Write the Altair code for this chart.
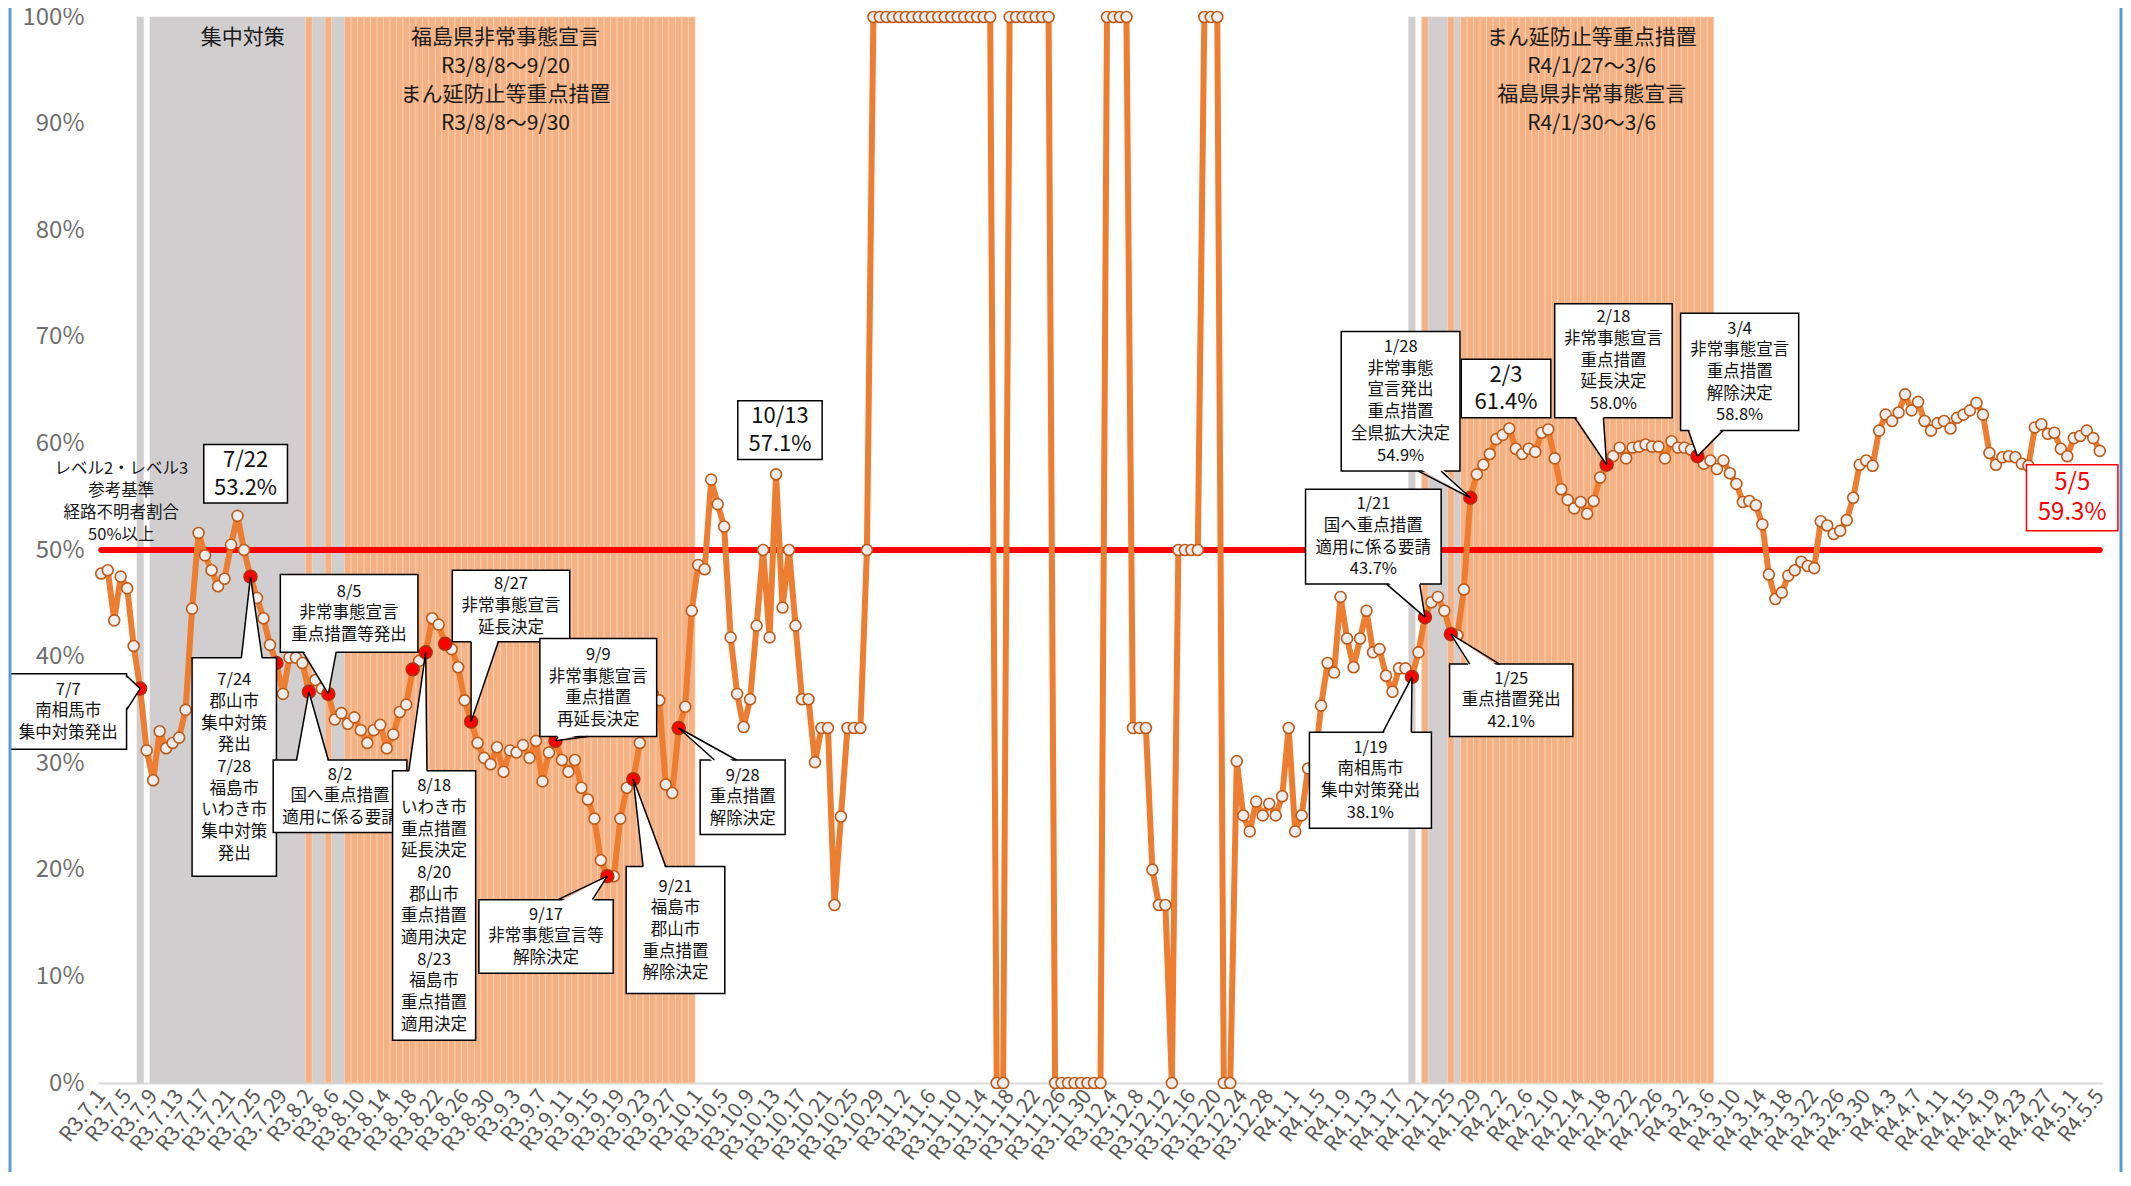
import altair as alt
import pandas as pd

FONT = 'Noto Sans CJK JP'

# Daily share of cases with unknown infection route (%), R3.7.1 .. R4.5.5
jul = [47.8, 48.1, 43.4, 47.5, 46.4, 41.0, 37.0, 31.2, 28.4, 33.0,
       31.4, 31.9, 32.4, 35.0, 44.5, 51.6, 49.5, 48.1, 46.6, 47.3,
       50.5, 53.2, 50.0, 47.5, 45.5, 43.6, 41.1, 39.4, 36.5, 39.9, 39.9]
aug = [39.4, 36.7, 37.8, 37.0, 36.5, 34.1, 34.7, 33.7, 34.3, 33.1,
       31.9, 33.1, 33.6, 31.4, 32.7, 34.8, 35.5, 38.8, 39.6, 40.4,
       43.6, 43.0, 41.2, 40.7, 39.0, 35.9, 33.9, 31.9, 30.5, 29.9, 31.5]
sep = [29.2, 31.2, 31.0, 31.7, 30.5, 32.1, 28.3, 31.0, 32.1, 30.3,
       29.2, 30.3, 27.7, 26.6, 24.8, 20.9, 19.4, 19.4, 24.8, 27.7,
       28.5, 31.9, 34.5, 36.5, 35.9, 28.0, 27.2, 33.3, 35.3, 44.3]
octo = [48.6, 48.2, 56.6, 54.3, 52.2, 41.8, 36.5, 33.4, 36.0, 42.9,
        50.0, 41.8, 57.1, 44.6, 50.0, 42.9, 36.0, 36.0, 30.1, 33.3,
        33.3, 16.7, 25.0, 33.3, 33.3, 33.3, 50.0, 100, 100, 100, 100]
nov = [100, 100, 100, 100, 100, 100, 100, 100, 100, 100,
       100, 100, 100, 100, 100, 0, 0, 100, 100, 100,
       100, 100, 100, 100, 0, 0, 0, 0, 0, 0]
dec = [0, 0, 100, 100, 100, 100, 33.3, 33.3, 33.3, 20.0,
       16.7, 16.7, 0, 50, 50, 50, 50, 100, 100, 100,
       0, 0, 30.2, 25.1, 23.6, 26.4, 25.1, 26.2, 25.1, 26.9, 33.3]
jan = [23.6, 25.1, 29.5, 29.8, 35.4, 39.4, 38.5, 45.6, 41.7, 39.0,
       41.7, 44.3, 40.4, 40.7, 38.2, 36.7, 38.9, 38.9, 38.1, 40.4,
       43.7, 45.1, 45.6, 44.3, 42.1, 42.0, 46.3, 54.9, 57.1, 58.0, 59.0]
feb = [60.4, 60.8, 61.4, 59.5, 59.0, 59.5, 59.2, 61.0, 61.3, 58.6,
       55.7, 54.7, 53.9, 54.5, 53.4, 54.6, 56.8, 58.0, 58.8, 59.6,
       58.6, 59.6, 59.7, 59.9, 59.7, 59.7, 58.6, 60.2]
mar = [59.6, 59.6, 59.4, 58.8, 58.1, 58.4, 57.6, 58.4, 57.2, 56.2,
       54.5, 54.6, 54.2, 52.4, 47.7, 45.4, 46.0, 47.6, 48.1, 48.9,
       48.5, 48.3, 52.7, 52.3, 51.5, 51.8, 52.8, 54.9, 58.0, 58.4, 57.9]
apr = [61.2, 62.7, 62.1, 62.9, 64.6, 63.1, 63.9, 62.1, 61.2, 61.9,
       62.1, 61.4, 62.4, 62.7, 63.1, 63.8, 62.7, 59.1, 58.0, 58.7,
       58.8, 58.7, 58.1, 57.9, 61.5, 61.8, 60.9, 61.0, 59.5, 58.8]
may = [60.5, 60.7, 61.2, 60.5, 59.3]
ratio = jul + aug + sep + octo + nov + dec + jan + feb + mar + apr + may

# x axis labels, one every 4 days
tick_labels = ['R3.7.1', 'R3.7.5', 'R3.7.9', 'R3.7.13', 'R3.7.17', 'R3.7.21', 'R3.7.25', 'R3.7.29',
               'R3.8.2', 'R3.8.6', 'R3.8.10', 'R3.8.14', 'R3.8.18', 'R3.8.22', 'R3.8.26', 'R3.8.30',
               'R3.9.3', 'R3.9.7', 'R3.9.11', 'R3.9.15', 'R3.9.19', 'R3.9.23', 'R3.9.27',
               'R3.10.1', 'R3.10.5', 'R3.10.9', 'R3.10.13', 'R3.10.17', 'R3.10.21', 'R3.10.25', 'R3.10.29',
               'R3.11.2', 'R3.11.6', 'R3.11.10', 'R3.11.14', 'R3.11.18', 'R3.11.22', 'R3.11.26', 'R3.11.30',
               'R3.12.4', 'R3.12.8', 'R3.12.12', 'R3.12.16', 'R3.12.20', 'R3.12.24', 'R3.12.28',
               'R4.1.1', 'R4.1.5', 'R4.1.9', 'R4.1.13', 'R4.1.17', 'R4.1.21', 'R4.1.25', 'R4.1.29',
               'R4.2.2', 'R4.2.6', 'R4.2.10', 'R4.2.14', 'R4.2.18', 'R4.2.22', 'R4.2.26',
               'R4.3.2', 'R4.3.6', 'R4.3.10', 'R4.3.14', 'R4.3.18', 'R4.3.22', 'R4.3.26', 'R4.3.30',
               'R4.4.3', 'R4.4.7', 'R4.4.11', 'R4.4.15', 'R4.4.19', 'R4.4.23', 'R4.4.27',
               'R4.5.1', 'R4.5.5']

# days (index from R3.7.1) marked in red
event_days = [6, 23, 27, 32, 35, 48, 50, 53, 57, 70, 78, 82, 89, 202, 204, 208, 211, 232, 246]

# background periods: 集中対策 (gray) and 重点措置/非常事態宣言 (orange)
gray_spans = [(6, 6), (8, 31), (33, 34), (36, 37), (202, 202), (205, 207), (209, 209)]
orange_spans = [(32, 32), (35, 35), (38, 91), (204, 204), (208, 208), (210, 248)]

threshold = 50

W, H = 2005, 1066
xs = alt.Scale(domain=[-0.5, 308.5], nice=False, zero=False)
ys = alt.Scale(domain=[0, 100], nice=False, zero=False)

label_expr = '[' + ','.join("'%s'" % t for t in tick_labels) + '][round(datum.value / 4)]'
x_axis = alt.Axis(values=list(range(0, len(ratio), 4)), labelExpr=label_expr,
                  labelAngle=-52, labelAlign='right', labelBaseline='middle',
                  labelFontSize=21, labelFont=FONT, labelColor='#595959',
                  labelPadding=9, labelOverlap=False, labelFlush=False,
                  ticks=False, grid=False, domainColor='#D9D9D9', domainWidth=2)
y_axis = alt.Axis(values=list(range(0, 101, 10)), labelExpr="datum.value + '%'",
                  labelFontSize=24, labelFont=FONT, labelColor='#6F6F6F',
                  labelPadding=14, ticks=False, domain=False, grid=False)


def X(f):
    return alt.X(f, type='quantitative', scale=xs, axis=x_axis, title=None)


def Y(f):
    return alt.Y(f, type='quantitative', scale=ys, axis=y_axis, title=None)


df = pd.DataFrame({'day': range(len(ratio)), 'ratio': ratio})

# --- background columns
gray_df = pd.DataFrame(gray_spans, columns=['a', 'b'])
gray_df['x0'] = gray_df['a'] - 0.5
gray_df['x1'] = gray_df['b'] + 0.5
gray_df['y0'] = 0
gray_df['y1'] = 100
gray = alt.Chart(gray_df).mark_rect(color='#D0CECE', stroke='#D0CECE', strokeWidth=0.5).encode(
    x=X('x0'), x2='x1', y=Y('y0'), y2='y1')

orange_days = [d for a, b in orange_spans for d in range(a, b + 1)]
orange_df = pd.DataFrame({'day': orange_days})
orange_df['x0'] = orange_df['day'] - 0.5
orange_df['x1'] = orange_df['day'] + 0.5
orange_df['y0'] = 0
orange_df['y1'] = 100
orange = alt.Chart(orange_df).mark_rect(color='#F4B183', stroke='#F9CFB2', strokeWidth=0.8).encode(
    x=X('x0'), x2='x1', y=Y('y0'), y2='y1')

# --- 50% reference line
thr = alt.Chart(pd.DataFrame({'x0': [0], 'x1': [len(ratio) - 1], 'y': [threshold]})).mark_rule(
    color='#FF0000', strokeWidth=6, strokeCap='round').encode(x=X('x0'), x2='x1', y=Y('y'))

# --- main series
line = alt.Chart(df).mark_line(color='#ED7D31', strokeWidth=6, strokeJoin='round').encode(
    x=X('day'), y=Y('ratio'))

white_pts = alt.Chart(df[~df['day'].isin(event_days)]).mark_circle(
    size=120, color='#EDEDED', stroke='#BF5B17', strokeWidth=1.6, opacity=1).encode(x=X('day'), y=Y('ratio'))
red_pts = alt.Chart(df[df['day'].isin(event_days)]).mark_circle(
    size=165, color='#FF0000', stroke='#A93210', strokeWidth=1.6, opacity=1).encode(x=X('day'), y=Y('ratio'))

# --- callouts: box (x0, x1, y0, y1) in day / % units, pointer (base a, base b, apex day, apex %)
callouts = [
    dict(lines=['7/7', '南相馬市', '集中対策発出'], box=(-14.1, 3.9, 31.3, 38.4), ptr=(35.0, 38.2, 6, 37.0), side='v'),
    dict(lines=['7/24', '郡山市', '集中対策', '発出', '7/28', '福島市', 'いわき市', '集中対策', '発出'],
         box=(14.0, 27.0, 19.4, 39.9), ptr=(21.6, 24.8, 23, 47.5)),
    dict(lines=['8/5', '非常事態宣言', '重点措置等発出'], box=(27.6, 48.8, 40.4, 47.7), ptr=(31.1, 36.2, 35, 36.5)),
    dict(lines=['8/2', '国へ重点措置', '適用に係る要請'], box=(26.5, 47.1, 23.5, 30.3), ptr=(30.1, 35.0, 32, 36.7)),
    dict(lines=['8/18', 'いわき市', '重点措置', '延長決定', '8/20', '郡山市', '重点措置', '適用決定',
                '8/23', '福島市', '重点措置', '適用決定'], box=(44.9, 57.7, 4.0, 29.3), ptr=(47.4, 50.2, 50, 40.4)),
    dict(lines=['8/27', '非常事態宣言', '延長決定'], box=(54.1, 72.2, 41.4, 48.1), ptr=(57.0, 61.2, 57, 33.9)),
    dict(lines=['9/9', '非常事態宣言', '重点措置', '再延長決定'], box=(67.6, 85.6, 32.5, 41.7), ptr=(70.4, 75.0, 70, 32.1)),
    dict(lines=['9/17', '非常事態宣言等', '解除決定'], box=(58.2, 78.9, 10.3, 17.2), ptr=(70.4, 75.7, 78, 19.4)),
    dict(lines=['9/21', '福島市', '郡山市', '重点措置', '解除決定'], box=(80.9, 96.1, 8.4, 20.3), ptr=(83.5, 87.0, 82, 28.5)),
    dict(lines=['9/28', '重点措置', '解除決定'], box=(92.3, 105.4, 23.3, 30.3), ptr=(94.5, 97.9, 89, 33.3)),
    dict(lines=['1/19', '南相馬市', '集中対策発出', '38.1%'], box=(186.2, 205.0, 23.9, 32.9), ptr=(197.5, 201.9, 202, 38.1)),
    dict(lines=['1/21', '国へ重点措置', '適用に係る要請', '43.7%'], box=(185.6, 206.5, 46.8, 55.7), ptr=(198.1, 203.2, 204, 43.7)),
    dict(lines=['1/25', '重点措置発出', '42.1%'], box=(207.8, 226.8, 32.5, 39.3), ptr=(210.9, 215.5, 208, 42.1)),
    dict(lines=['1/28', '非常事態', '宣言発出', '重点措置', '全県拡大決定', '54.9%'],
         box=(191.1, 209.4, 57.4, 70.5), ptr=(203.0, 206.5, 211, 54.9)),
    dict(lines=['2/18', '非常事態宣言', '重点措置', '延長決定', '58.0%'], box=(224.0, 242.1, 62.4, 73.1), ptr=(227.1, 231.5, 232, 58.0)),
    dict(lines=['3/4', '非常事態宣言', '重点措置', '解除決定', '58.8%'], box=(243.4, 261.6, 61.2, 72.2), ptr=(244.6, 249.9, 246, 58.8)),
    dict(lines=['7/22', '53.2%'], box=(15.8, 28.7, 54.4, 59.9), fs=22, lh=27.5),
    dict(lines=['10/13', '57.1%'], box=(98.1, 111.1, 58.5, 64.0), fs=22, lh=27.5),
    dict(lines=['2/3', '61.4%'], box=(209.6, 223.4, 62.4, 67.9), fs=22, lh=27.5),
    dict(lines=['5/5', '59.3%'], box=(296.7, 310.8, 51.8, 58.0), fs=24, lh=30, color='#FF0000'),
]


def text_layer(lines, xc, yc, fs, lh, color):
    # multi-line text centred on (xc, yc)
    pos = pd.DataFrame({'xc': [xc], 'yc': [yc]})
    return alt.Chart(pos).mark_text(
        text=lines, font=FONT, fontSize=fs, lineHeight=lh, color=color,
        align='center', baseline='middle', dy=-(len(lines) - 1) * lh / 2).encode(
        x=X('xc'), y=Y('yc'))


def callout_layers(c):
    x0, x1, y0, y1 = c['box']
    color = c.get('color', 'black')
    out = [alt.Chart(pd.DataFrame({'x0': [x0], 'x1': [x1], 'y0': [y0], 'y1': [y1]})).mark_rect(
        fill='white', stroke=color, strokeWidth=1.5).encode(x=X('x0'), x2='x1', y=Y('y0'), y2='y1')]
    if 'ptr' in c:
        a, b, ax, ay = c['ptr']
        if c.get('side') == 'v':
            bx = x1 if ax > x1 else x0
            inset = -0.3 if ax > x1 else 0.3
            tri = pd.DataFrame({'px': [bx + inset, ax], 'pa': [a, ay], 'pb': [b, ay]})
            area = alt.Chart(tri).mark_area(orient='vertical', color='white', opacity=1).encode(
                x=X('px'), y=Y('pa'), y2='pb')
            edges = pd.DataFrame({'xa': [bx, bx], 'ya': [a, b], 'xb': [ax, ax], 'yb': [ay, ay]})
        else:
            by = y0 if ay < y0 else y1
            inset = 0.3 if ay < y0 else -0.3
            tri = pd.DataFrame({'py': [by + inset, ay], 'pa': [a, ax], 'pb': [b, ax]})
            area = alt.Chart(tri).mark_area(orient='horizontal', color='white', opacity=1).encode(
                y=Y('py'), x=X('pa'), x2='pb')
            edges = pd.DataFrame({'xa': [a, b], 'ya': [by, by], 'xb': [ax, ax], 'yb': [ay, ay]})
        out.append(area)
        out.append(alt.Chart(edges).mark_rule(color=color, strokeWidth=1.5).encode(
            x=X('xa'), y=Y('ya'), x2='xb', y2='yb'))
    out.append(text_layer(c['lines'], (x0 + x1) / 2, (y0 + y1) / 2, c.get('fs', 16.5), c.get('lh', 21.7),
                          color if color != 'black' else '#111111'))
    return out


# --- free text (period headers and the threshold note)
headers = [
    dict(lines=['集中対策'], at=(21.8, 98.0), fs=21, lh=28.6),
    dict(lines=['福島県非常事態宣言', 'R3/8/8～9/20', 'まん延防止等重点措置', 'R3/8/8～9/30'], at=(62.3, 94.0), fs=21, lh=28.6),
    dict(lines=['まん延防止等重点措置', 'R4/1/27～3/6', '福島県非常事態宣言', 'R4/1/30～3/6'], at=(229.7, 94.0), fs=21, lh=28.6),
    dict(lines=['レベル2・レベル3', '参考基準', '経路不明者割合', '50%以上'], at=(3.1, 54.5), fs=16.5, lh=21.8),
]
header_layers = [text_layer(h['lines'], h['at'][0], h['at'][1], h['fs'], h['lh'], '#1A1A1A') for h in headers]

# --- thin blue frame at both sides
frame_df = pd.DataFrame({'k': [0]})
frame_l = alt.Chart(frame_df).mark_rule(color='#5B9BD5', strokeWidth=3).encode(
    x=alt.value(-88), y=alt.value(-9), y2=alt.value(H + 89))
frame_r = alt.Chart(frame_df).mark_rule(color='#5B9BD5', strokeWidth=3).encode(
    x=alt.value(W + 18), y=alt.value(-9), y2=alt.value(H + 89))

layers = [gray, orange, thr, line, white_pts, red_pts] + header_layers
for c in callouts:
    layers += callout_layers(c)
layers += [frame_l, frame_r]

chart = alt.layer(*layers).properties(
    width=W, height=H,
    autosize=alt.AutoSizeParams(type='none'),
    padding={'left': 90, 'top': 9, 'right': 20, 'bottom': 89}
).configure_view(stroke=None)

chart.save("out.html", embed_options={"renderer": "svg", "actions": False})
